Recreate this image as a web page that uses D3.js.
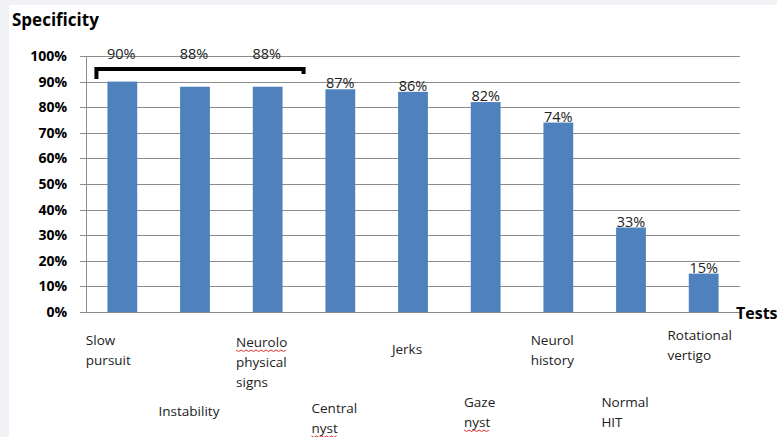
<!DOCTYPE html>
<html>
<head>
<meta charset="utf-8">
<script src="https://d3js.org/d3.v7.min.js"></script>
<style>
  body { margin: 0; background: #f0f2f5; }
  svg { display: block; }
  .axis text { font-family: "Open Sans", sans-serif; font-weight: bold; font-size: 14px; fill: #000; }
  .axis path { display: none; }
  .grid line { stroke: #8c8c8c; stroke-width: 1; }
  .bar { fill: #4f81bd; }
  .val { font-family: "Open Sans", sans-serif; font-size: 14.5px; fill: #222; text-anchor: middle; }
  .cat { font-family: "Open Sans", sans-serif; font-size: 13.5px; fill: #222; }
  .title { font-family: "Open Sans", sans-serif; font-weight: bold; font-size: 17px; fill: #000; }
</style>
</head>
<body>
<script>
// data
var tests = ["Slow pursuit", "Instability", "Neurolo physical signs", "Central nyst", "Jerks",
             "Gaze nyst", "Neurol history", "Normal HIT", "Rotational vertigo"];
var specificity = [90, 88, 88, 87, 86, 82, 74, 33, 15];
var yTicks = [0, 10, 20, 30, 40, 50, 60, 70, 80, 90, 100];

// label wrapping and staggered rows (layout only)
var labelLines = [["Slow", "pursuit"], ["Instability"], ["Neurolo", "physical", "signs"],
                  ["Central", "nyst"], ["Jerks"], ["Gaze", "nyst"], ["Neurol", "history"],
                  ["Normal", "HIT"], ["Rotational", "vertigo"]];
var labelTop = [345, 416, 347, 413, 354, 407, 345, 407, 340];
var labelShift = [-8, 0, 0, 0, 0, 0, 0, 0, 2];
// spell-check underline: [line index] or -1
var squiggle = [-1, -1, 0, 1, -1, 1, -1, -1, -1];

var W = 777, H = 437;
var margin = { left: 86, top: 56, right: 37, bottom: 125 };
var pw = W - margin.left - margin.right, ph = H - margin.top - margin.bottom;

var svg = d3.select("body").append("svg").attr("width", W).attr("height", H);
svg.append("rect").attr("x", 9).attr("y", 5).attr("width", W - 9).attr("height", H - 5).attr("fill", "#fff");

var g = svg.append("g").attr("transform", "translate(" + margin.left + "," + margin.top + ")");

var x = d3.scaleBand().domain(tests).range([0, pw]).paddingInner(0.59).paddingOuter(0.295);
var y = d3.scaleLinear().domain([0, 100]).range([ph, 0]);

// gridlines
g.append("g").attr("class", "grid")
  .selectAll("line").data(yTicks).enter().append("line")
  .attr("x1", -6).attr("x2", pw)
  .attr("y1", function(d) { return Math.round(y(d)) + 0.5; })
  .attr("y2", function(d) { return Math.round(y(d)) + 0.5; });
g.append("line").attr("x1", 0.5).attr("x2", 0.5).attr("y1", 0).attr("y2", ph)
  .attr("stroke", "#8c8c8c");

// y axis labels
g.append("g").attr("class", "axis")
  .attr("transform", "translate(-19,0)")
  .call(d3.axisLeft(y).tickValues(yTicks).tickSize(0).tickPadding(0)
        .tickFormat(function(d) { return d + "%"; }));

// bars
g.selectAll(".bar").data(specificity).enter().append("rect")
  .attr("class", "bar")
  .attr("x", function(d, i) { return x(tests[i]); })
  .attr("y", function(d) { return y(d); })
  .attr("width", x.bandwidth())
  .attr("height", function(d) { return ph - y(d); });

// value labels (first three lifted above the bracket)
g.selectAll(".val").data(specificity).enter().append("text")
  .attr("class", "val")
  .attr("x", function(d, i) { return x(tests[i]) + x.bandwidth() / 2 + (i < 3 ? -1 : 0); })
  .attr("y", function(d, i) { return i < 3 ? y(100) + 3 : y(d) - 1; })
  .text(function(d) { return d + "%"; });

// bracket over the first three tests
var bx0 = x(tests[0]) - 11, bx1 = x(tests[2]) + x.bandwidth() + 21, by = y(100) + 13;
g.append("path")
  .attr("d", "M" + bx0 + "," + (by + 10) + "V" + by + "H" + bx1 + "V" + (by + 5))
  .attr("fill", "none").attr("stroke", "#000").attr("stroke-width", 4);

// category labels: block centred under the bar, lines left aligned
tests.forEach(function(t, i) {
  var txt = svg.append("text").attr("class", "cat").attr("y", labelTop[i]);
  var spans = labelLines[i].map(function(line, j) {
    return txt.append("tspan").attr("dy", j === 0 ? 0 : 20).text(line);
  });
  var bw = d3.max(spans, function(s) { return s.node().getComputedTextLength(); });
  var lx = margin.left + x(t) + x.bandwidth() / 2 - 6 - bw / 2 + labelShift[i];
  spans.forEach(function(s) { s.attr("x", lx); });
  if (squiggle[i] >= 0) {
    var lw = spans[squiggle[i]].node().getComputedTextLength();
    var sy = labelTop[i] + 20 * squiggle[i] + 3;
    var pts = d3.range(0, lw + 1, 2.5).map(function(k, n) { return [lx + k, sy + (n % 2 ? 1.5 : 0)]; });
    svg.append("path").attr("d", d3.line()(pts)).attr("fill", "none")
      .attr("stroke", "#e03030").attr("stroke-width", 1);
  }
});

// titles
svg.append("text").attr("class", "title").attr("x", 12).attr("y", 26).text("Specificity");
svg.append("text").attr("class", "title").attr("x", 736).attr("y", 319).style("font-size", "16px").text("Tests");
</script>
</body>
</html>
